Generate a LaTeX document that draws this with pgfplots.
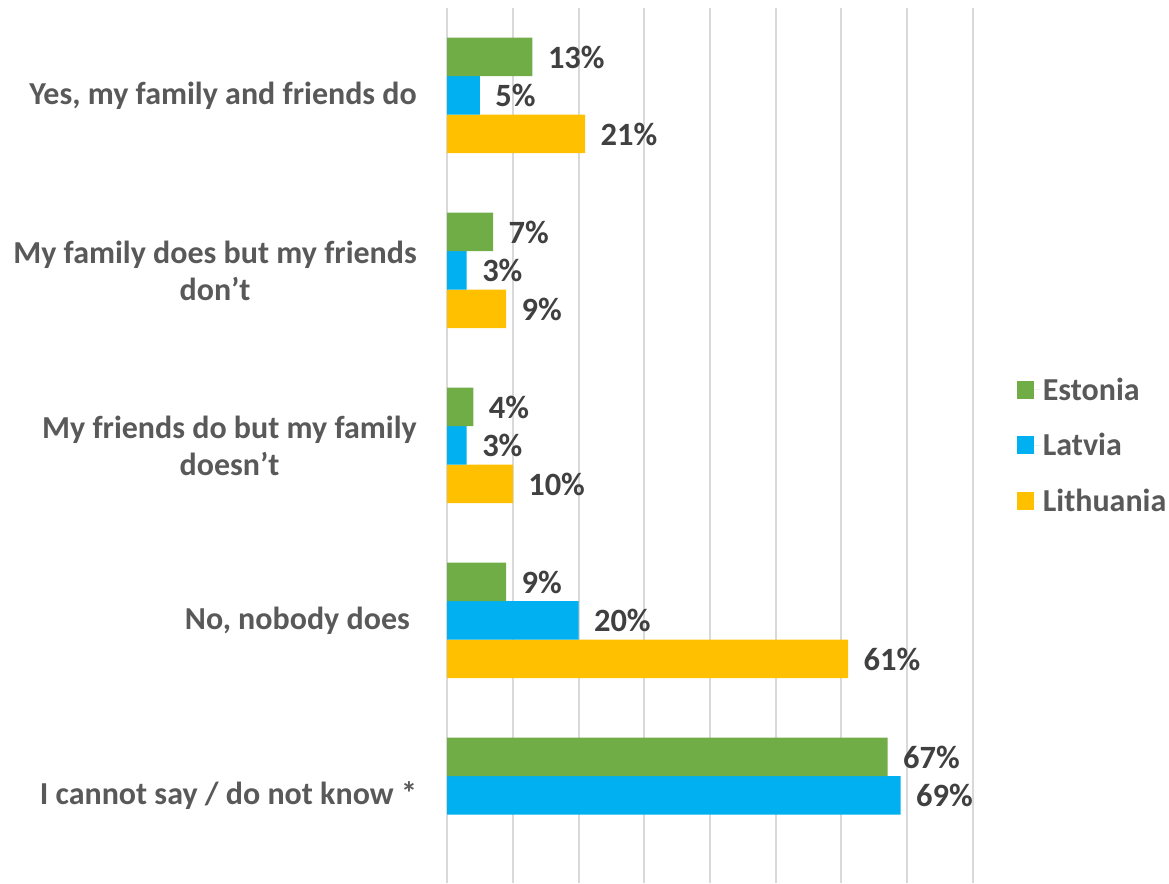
\documentclass[border=0pt]{standalone}
\usepackage{fontspec}
\setmainfont{Carlito}
\usepackage{pgfplots}
\pgfplotsset{compat=1.18}
\definecolor{cEst}{HTML}{70AD47}
\definecolor{cLat}{HTML}{00B0F0}
\definecolor{cLit}{HTML}{FFC000}
\definecolor{cLab}{HTML}{595959}
\definecolor{cVal}{HTML}{404040}
\definecolor{cGrid}{HTML}{D9D9D9}
\begin{document}
\begin{tikzpicture}
\useasboundingbox (0,0) rectangle (1169pt,883pt);
\begin{axis}[
 at={(447pt,0pt)}, anchor=south west,
 scale only axis, width=526pt, height=875pt,
 xbar=0pt, bar width=38.5pt,
 xmin=0, xmax=80, ymin=-0.5, ymax=4.5,
 xtick={0,10,...,80}, xticklabels={},
 ytick={0,1,2,3,4},
 yticklabels={{I cannot say / do not know *},{No, nobody does\rule{7pt}{0pt}},{My friends do but my family\\doesn’t},{My family does but my friends\\don’t},{Yes, my family and friends do}},
 major tick length=0pt,
 axis line style={draw=none},
 xmajorgrids, grid style={cGrid, line width=2pt},
 yticklabel style={align=center, font=\fontsize{32}{37}\selectfont\bfseries, text=cLab, inner sep=0pt, xshift=-30pt},
 nodes near coords={\pgfmathprintnumber{\pgfplotspointmeta}\%},
 nodes near coords style={font=\fontsize{32.5}{36}\selectfont\bfseries, text=cVal, xshift=12pt},
 /pgf/number format/assume math mode=true,
 legend style={at={(1.083,0.5)}, anchor=west, draw=none, fill=none, font=\fontsize{32}{36}\selectfont\bfseries, text=cLab, row sep=28pt, inner sep=0pt},
 legend cell align=left,
 reverse legend,
 legend image code/.code={\fill[#1] (0pt,-9pt) rectangle (17pt,9pt); \path (0pt,0pt) -- (24pt,0pt);},
 clip=false,
]
\addplot[fill=cLit, draw=none] coordinates {(21,4) (9,3) (10,2) (61,1)};
\addplot[fill=cLat, draw=none] coordinates {(5,4) (3,3) (3,2) (20,1) (69,0)};
\addplot[fill=cEst, draw=none] coordinates {(13,4) (7,3) (4,2) (9,1) (67,0)};
\legend{Lithuania, Latvia, Estonia}
\end{axis}
\end{tikzpicture}
\end{document}
